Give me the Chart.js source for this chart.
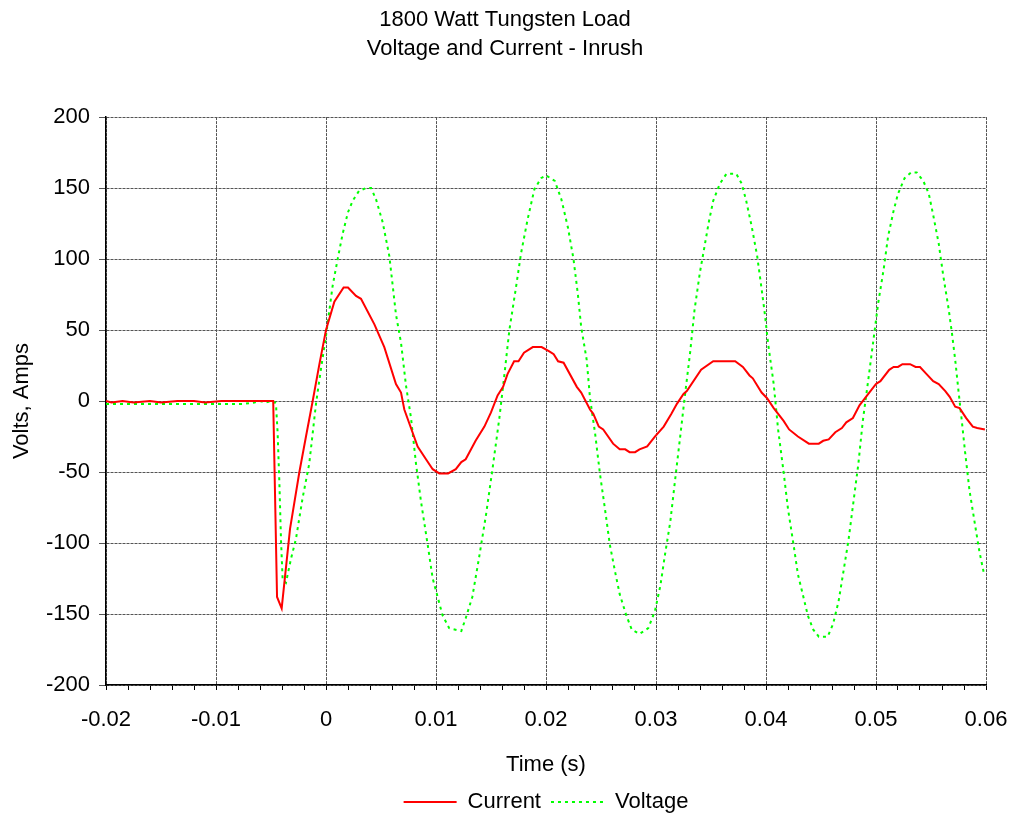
<!DOCTYPE html>
<html>
<head>
<meta charset="utf-8">
<title>1800 Watt Tungsten Load</title>
<script src="https://cdn.jsdelivr.net/npm/chart.js@4.4.1/dist/chart.umd.min.js"></script>
<style>
body{margin:0;background:#fff}
#wrap{width:1014px;height:817px}
</style>
</head>
<body>
<div id="wrap"><canvas id="mainChart" width="1014" height="817"></canvas></div>
<script>
const titleLines = ["1800 Watt Tungsten Load", "Voltage and Current - Inrush"];
const seriesNames = ["Current", "Voltage"];
const xTitle = "Time (s)";
const yTitle = "Volts, Amps";

const currentTime = [-0.02,-0.0195,-0.0185,-0.0175,-0.016,-0.015,-0.0135,-0.012,-0.011,-0.0095,-0.008,-0.0065,-0.0055,-0.0048,
  -0.00445,-0.00403,-0.00327,-0.00242,-0.00182,-0.00121,-0.0006,0,0.00076,0.0016,0.002,0.00273,0.00318,0.0044,0.0053,0.00636,
  0.00682,0.00712,0.00833,0.00909,0.0097,0.0103,0.0111,0.0118,0.0123,0.0127,0.0136,0.0144,0.015,0.0156,0.0161,0.0165,0.0171,
  0.0175,0.018,0.0188,0.0196,0.0203,0.0207,0.0211,0.0216,0.0228,0.0232,0.024,0.0243,0.0248,0.0252,0.0261,0.0267,0.0272,0.0276,
  0.0281,0.0285,0.0292,0.0299,0.0307,0.0314,0.0319,0.0325,0.0328,0.0341,0.0352,0.0372,0.0379,0.0385,0.0388,0.0396,0.0401,
  0.0407,0.0416,0.0421,0.0429,0.0439,0.0448,0.0452,0.0457,0.0463,0.0469,0.0473,0.0479,0.0485,0.0493,0.05,0.0504,0.0512,0.0516,
  0.052,0.0524,0.0531,0.0536,0.054,0.0546,0.0552,0.0557,0.0563,0.0567,0.0572,0.0576,0.0582,0.0588,0.0592,0.0599];
const currentAmps = [0,-1,0,-1,0,-1,0,0,-1,0,0,0,0,0,
  -138,-146,-90,-50,-25,0,26,50,70,80,80,74,72,54,38,12,
  6,-6,-32,-41,-48,-51,-51,-48,-43,-41,-28,-18,-8,4,10,19,28,
  28,34,38,38,35,33,28,27,10,6,-6,-9,-18,-20,-30,-34,-34,-36,
  -36,-34,-32,-25,-18,-9,-2,5,7,22,28,28,24,18,16,6,2,
  -5,-14,-20,-25,-30,-30,-28,-27,-22,-19,-15,-12,-3,5,12,14,22,24,
  24,26,26,24,24,19,14,12,7,3,-4,-5,-12,-18,-19,-20];

const voltageTime = [-0.02,-0.015,-0.01,-0.0075,-0.0065,-0.006,-0.0055,-0.005,-0.00465,-0.00455,
  -0.0044,-0.00424,-0.00409,-0.00394,-0.00364,-0.00318,-0.00273,-0.00212,-0.00152,-0.00091,-0.00045,0,0.0006,0.00106,
  0.00152,0.002,0.00242,0.003,0.00364,0.0041,0.00455,0.00515,0.00576,0.00636,0.00682,0.00727,0.00773,0.00818,0.00864,
  0.00924,0.0097,0.01015,0.0106,0.0112,0.0123,0.0127,0.0133,0.0139,0.01455,0.01515,0.01576,0.01621,0.01667,0.01727,
  0.01773,0.01833,0.01894,0.01955,0.02,0.0208,0.0214,0.022,0.0225,0.0229,0.0232,0.0237,0.024,0.02445,0.0249,0.02536,
  0.0258,0.0263,0.0267,0.0273,0.0278,0.0285,0.0293,0.0299,0.0304,0.0308,0.0313,0.0317,0.0322,0.0326,0.0331,0.0335,
  0.034,0.0343,0.0348,0.0352,0.0358,0.0364,0.0373,0.0378,0.0382,0.0387,0.0392,0.0396,0.0399,0.0402,0.0407,0.0411,
  0.0416,0.042,0.0425,0.0429,0.0434,0.0438,0.0443,0.0448,0.0456,0.0461,0.0466,0.047,0.0475,0.0479,0.0484,0.0488,
  0.0493,0.0498,0.0502,0.0507,0.0511,0.0516,0.052,0.0526,0.0532,0.0537,0.0543,0.0548,0.0552,0.0557,0.0561,0.0566,
  0.0569,0.0572,0.0575,0.0578,0.0581,0.0585,0.059,0.0594,0.0598];
const voltageVolts = [-2,-2,-2,-2,-1,0,-1,0,-1,-2,
  -22,-57,-98,-126,-128,-111,-97,-68,-44,-2,23,46,81,100,
  118,133,141,148,150,150,142,126,102,61,41,11,-12,-44,-71,
  -101,-125,-138,-151,-160,-162,-153,-138,-111,-80,-47,-12,18,50,80,
  104,128,149,157,159,155,142,122,100,75,52,29,2,-22,-51,-76,
  -101,-121,-136,-151,-161,-164,-160,-148,-130,-109,-85,-58,-25,2,34,64,
  91,104,126,141,153,160,160,153,141,123,102,79,61,40,12,-20,
  -50,-76,-101,-122,-138,-151,-161,-166,-166,-157,-141,-122,-98,-74,-44,-14,
  15,45,69,93,116,134,146,157,161,161,155,146,131,111,89,65,
  48,29,7,-14,-36,-63,-87,-106,-121];

const xMin = -0.02, xMax = 0.06, xStep = 0.002;
const yMin = -200, yMax = 200, yStep = 50;

function toPoints(xs, ys){
  return xs.map((x, i) => ({x: x, y: ys[i]}));
}

function isMajor(v){
  return Math.abs(Math.round(v * 100) - v * 100) < 1e-6;
}

function legendLabels(ch){
  const items = Chart.defaults.plugins.legend.labels.generateLabels(ch);
  items.forEach((it, i) => {
    const ds = ch.data.datasets[i];
    it.lineDash = ds.borderDash || [];
    it.lineWidth = 2;
    it.strokeStyle = ds.borderColor;
  });
  return items;
}

Chart.defaults.font.family = "'Liberation Sans', Arial, sans-serif";
Chart.defaults.font.size = 22;
Chart.defaults.color = "#000";

const ctx = document.getElementById("mainChart").getContext("2d");

const chart = new Chart(ctx, {
  type: "line",
  data: {
    datasets: [
      {label: seriesNames[0], data: toPoints(currentTime, currentAmps), borderColor: "#ff0000", borderWidth: 2,
       pointRadius: 0, tension: 0, fill: false},
      {label: seriesNames[1], data: toPoints(voltageTime, voltageVolts), borderColor: "#00ff00", borderWidth: 2,
       borderDash: [3, 4], pointRadius: 0, tension: 0, fill: false}
    ]
  },
  options: {
    responsive: false,
    animation: false,
    layout: {padding: {left: 24, right: 28, top: 5, bottom: -6}},
    plugins: {
      title: {display: true, text: titleLines, font: {size: 22, weight: "normal", lineHeight: 1.32},
              padding: {top: 0, bottom: 54}, color: "#000"},
      legend: {
        position: "bottom",
        fullSize: false,
        labels: {usePointStyle: true, pointStyle: "line", pointStyleWidth: 53, padding: 10,
                 font: {size: 22}, color: "#000", generateLabels: legendLabels}
      },
      tooltip: {enabled: false}
    },
    scales: {
      x: {
        type: "linear", min: xMin, max: xMax,
        ticks: {stepSize: xStep, autoSkip: false, maxRotation: 0, padding: 17,
                callback: v => isMajor(v) ? String(Math.round(v * 100) / 100) : ""},
        grid: {color: c => isMajor(c.tick.value) ? "#555" : "rgba(0,0,0,0)", tickColor: "#000", tickLength: 5, lineWidth: 1},
        border: {display: true, color: "#000", width: 1.5, dash: [3, 1]},
        title: {display: true, text: xTitle, font: {size: 22}, padding: {top: 20, bottom: 3}},
        afterFit: s => { s.height = 96; s.paddingLeft = 0; s.paddingRight = 0; }
      },
      y: {
        min: yMin, max: yMax,
        ticks: {stepSize: yStep, padding: 9},
        grid: {color: "#555", tickColor: "#555", tickLength: 7, lineWidth: 1},
        border: {display: true, color: "#000", width: 1.5, dash: [3, 1]},
        title: {display: true, text: yTitle, font: {size: 22}, padding: {top: -15, bottom: 4}},
        afterFit: s => { s.width = 82; }
      }
    }
  }
});
</script>
</body>
</html>
